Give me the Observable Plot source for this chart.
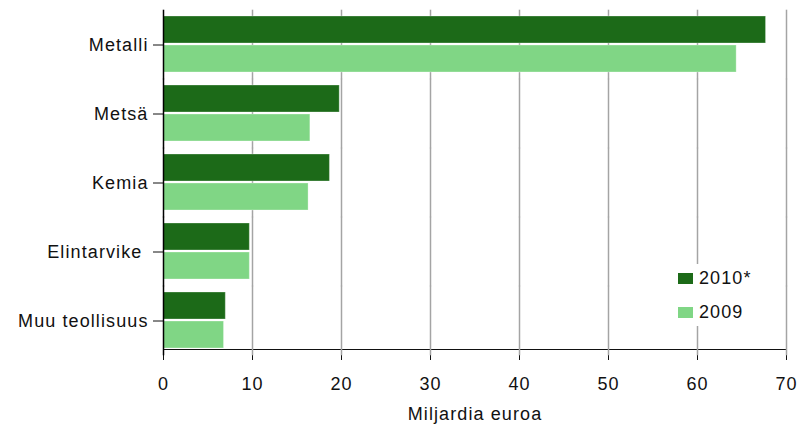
<!DOCTYPE html>
<html>
<head>
<meta charset="utf-8">
<script src="https://cdn.jsdelivr.net/npm/d3@7"></script>
<script src="https://cdn.jsdelivr.net/npm/@observablehq/plot@0.6"></script>
<style>
  body { margin: 0; background: #fff; }
  #wrap { position: relative; width: 798px; height: 434px; overflow: hidden; }
  #wrap svg text { letter-spacing: 1.1px; }
  .legend { position: absolute; left: 672px; top: 264px; width: 86px; height: 62px; background: #fff;
            font-family: "Liberation Sans", Arial, sans-serif; font-size: 18px; letter-spacing: 1.1px; color: #111; }
  .item { position: absolute; left: 6px; height: 20px; display: flex; align-items: center; }
  .sw { width: 15px; height: 11px; margin-right: 6px; }
</style>
</head>
<body>
<div id="wrap"></div>
<script>
const categories = ["Metalli", "Metsä", "Kemia", "Elintarvike ", "Muu teollisuus"];
const years = ["2010*", "2009"];
const values2010 = [67.7, 19.8, 18.7, 9.7, 7.0];
const values2009 = [64.4, 16.5, 16.3, 9.7, 6.8];
const xTicks = [0, 10, 20, 30, 40, 50, 60, 70];
const colors = ["#1c6a18", "#80d685"];

const rows = [];
categories.forEach((c, i) => {
  rows.push({category: c, year: years[0], value: values2010[i]});
  rows.push({category: c, year: years[1], value: values2009[i]});
});

const ext = 6.3;
const chart = Plot.plot({
  width: 798,
  height: 434,
  marginLeft: 163,
  marginRight: 12,
  marginTop: 8,
  marginBottom: 77,
  style: {fontFamily: "Liberation Sans, Arial, sans-serif", fontSize: "18px", background: "#fff", color: "#111"},
  facet: {data: rows, y: "category"},
  fy: {domain: categories, paddingInner: 0.18, paddingOuter: 0.09, label: null, axis: "left", tickSize: 10, tickPadding: 5},
  y: {domain: years, axis: null, paddingInner: 0.06, paddingOuter: 0},
  x: {domain: [0, 70], ticks: xTicks, tickFormat: d => d, label: "Miljardia euroa", labelArrow: false, labelAnchor: "center", labelOffset: 70, tickSize: 11, tickPadding: 17, line: true},
  color: {domain: years, range: colors},
  marks: [
    Plot.ruleX(xTicks.slice(1), {stroke: "#a4a4a4", strokeWidth: 1.5, insetTop: -ext, insetBottom: -ext}),
    Plot.barX(rows, {x: "value", y: "year", fill: "year", stroke: "#ffffff", strokeOpacity: 0.3, strokeWidth: 1, insetLeft: 0.5}),
    Plot.ruleX([0], {stroke: "#000", strokeWidth: 1.5, insetTop: -ext, insetBottom: -ext})
  ]
});
const wrap = document.getElementById("wrap");
wrap.appendChild(chart);

const legend = document.createElement("div");
legend.className = "legend";
years.forEach((y, i) => {
  const it = document.createElement("div");
  it.className = "item";
  it.style.top = (4 + i * 34) + "px";
  const sw = document.createElement("span");
  sw.className = "sw";
  sw.style.background = colors[i];
  const t = document.createElement("span");
  t.textContent = y;
  it.appendChild(sw);
  it.appendChild(t);
  legend.appendChild(it);
});
wrap.appendChild(legend);
</script>
</body>
</html>
